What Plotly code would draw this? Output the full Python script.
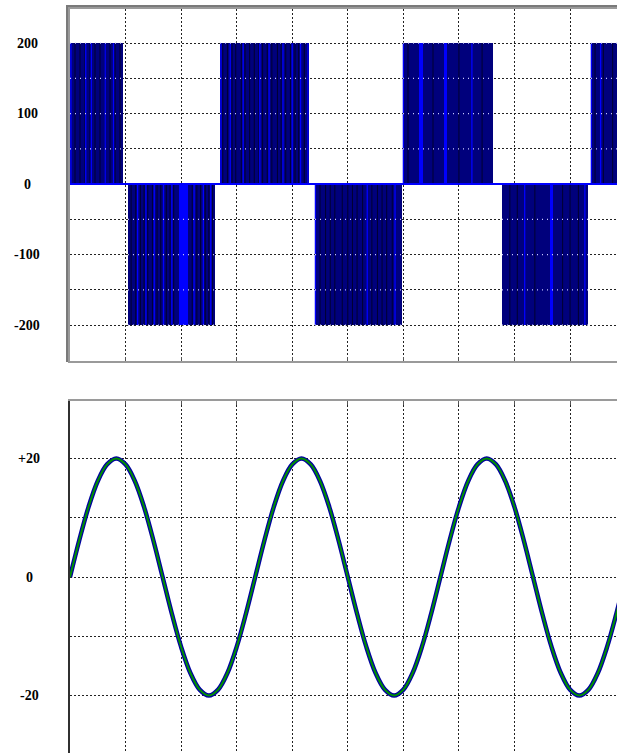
import plotly.graph_objects as go

# ---------------- data ----------------
# PWM inverter output voltage: conduction blocks (time in ms, level in V)
v_start = [0.0, 6.26, 16.2, 26.46, 35.96, 46.65, 56.26]
v_end = [5.72, 15.66, 25.8, 35.85, 45.68, 55.94, 59.1]
v_level = [200, -200, 200, -200, 200, -200, 200]

# pulse edges inside the blocks (ms) -- dark switching edges
dark_edges = [0.54, 1.08, 1.62, 2.16, 2.70, 3.24, 3.78, 4.32, 4.86, 5.40,
              6.6, 7.1, 7.6, 8.0, 8.4, 8.9, 9.4, 9.8, 10.4, 10.8, 11.2,
              13.2, 13.7, 14.1, 14.6, 15.0, 15.4,
              16.5, 17.0, 17.5, 17.9, 18.5, 18.9, 19.4, 19.9, 20.4, 20.8,
              21.3, 21.8, 22.4, 22.8, 23.3, 23.8, 24.3, 24.7, 25.3,
              27.0, 27.6, 28.1, 28.6, 29.4, 30.0, 30.5, 31.0, 31.6, 32.6,
              33.2, 33.7, 34.2, 34.8,
              36.5, 39.2, 42.0, 44.5,
              47.5, 48.3, 50.2, 53.2, 54.0, 54.9,
              56.7, 57.6, 58.6]
# narrow bright pulses (ms)
bright_edges = [0.1, 1.7, 2.3, 3.8, 4.7,
                7.3, 8.2, 9.1, 10.1, 11.0, 13.4, 14.4, 15.2,
                16.3, 17.3, 18.7, 20.5, 21.5, 23.0, 24.0, 24.9, 25.7,
                26.5, 32.1, 35.1,
                36.0, 43.4,
                49.1, 55.6,
                56.3, 57.3]
# wider bright pulses (ms)
band_start = [11.77, 37.7, 40.4, 51.8]
band_end = [12.74, 38.1, 40.7, 52.2]

# load current (A), read every 1 ms
t_ms = list(range(0, 61))
i_load = [0, 6.2, 11.8, 16.2, 19.0, 20.0, 19.0, 16.2, 11.8, 6.2,
          0, -6.2, -11.8, -16.2, -19.0, -20.0, -19.0, -16.2, -11.8, -6.2,
          0, 6.2, 11.8, 16.2, 19.0, 20.0, 19.0, 16.2, 11.8, 6.2,
          0, -6.2, -11.8, -16.2, -19.0, -20.0, -19.0, -16.2, -11.8, -6.2,
          0, 6.2, 11.8, 16.2, 19.0, 20.0, 19.0, 16.2, 11.8, 6.2,
          0, -6.2, -11.8, -16.2, -19.0, -20.0, -19.0, -16.2, -11.8, -6.2,
          0]

top_tick_vals = [200, 100, 0, -100, -200]
top_tick_text = ["200", "100", "0", "-100", "-200"]
bot_tick_vals = [20, 0, -20]
bot_tick_text = ["+20", "0", "-20"]

# ---------------- figure ----------------
W, H = 617, 753
ML = 70
PW = W - ML
X_MAX = 59.07


def px(xpix):
    return (xpix - ML) / PW


def py(ypix):
    return (H - ypix) / H


fig = go.Figure()

NAVY = "#00007c"
BRIGHT = "#0000ff"


def level_at(x):
    for s, e, lv in zip(v_start, v_end, v_level):
        if s - 0.05 <= x <= e + 0.05:
            return lv
    return 0


# voltage blocks
fig.add_trace(go.Bar(
    x=[(s + e) / 2 for s, e in zip(v_start, v_end)],
    y=v_level,
    width=[e - s for s, e in zip(v_start, v_end)],
    marker=dict(color=NAVY, line=dict(width=0)),
    xaxis="x", yaxis="y", showlegend=False, hoverinfo="skip"))

# wide bright pulses
fig.add_trace(go.Bar(
    x=[(s + e) / 2 for s, e in zip(band_start, band_end)],
    y=[level_at((s + e) / 2) for s, e in zip(band_start, band_end)],
    width=[e - s for s, e in zip(band_start, band_end)],
    marker=dict(color=BRIGHT, line=dict(width=0)),
    xaxis="x", yaxis="y", showlegend=False, hoverinfo="skip"))


def segs(xs):
    X, Y = [], []
    for x in xs:
        lv = level_at(x)
        X += [x, x, None]
        Y += [0, lv, None]
    return X, Y


dx, dy = segs(dark_edges)
fig.add_trace(go.Scatter(x=dx, y=dy, mode="lines",
                         line=dict(color="#000030", width=1),
                         xaxis="x", yaxis="y", showlegend=False, hoverinfo="skip"))
bx, by = segs(bright_edges)
fig.add_trace(go.Scatter(x=bx, y=by, mode="lines",
                         line=dict(color=BRIGHT, width=1.3),
                         xaxis="x", yaxis="y", showlegend=False, hoverinfo="skip"))

# light dotted grid seen through the blocks
gX, gY = [], []
for s, e, lv in zip(v_start, v_end, v_level):
    sign = 1 if lv > 0 else -1
    for g in (50, 100, 150, 200):
        gX += [s, e, None]
        gY += [sign * g, sign * g, None]
fig.add_trace(go.Scatter(x=gX, y=gY, mode="lines",
                         line=dict(color="#c8c8ff", width=1.2, dash="1px,4px"),
                         xaxis="x", yaxis="y", showlegend=False, hoverinfo="skip"))

# zero line of the voltage
fig.add_trace(go.Scatter(x=[0, X_MAX], y=[0, 0], mode="lines",
                         line=dict(color=BRIGHT, width=2),
                         xaxis="x", yaxis="y", showlegend=False, hoverinfo="skip"))

# current: measured (blue, rippled) and fundamental (green)
fig.add_trace(go.Scatter(x=t_ms, y=i_load, mode="lines",
                         line=dict(color="#0000a0", width=4.5, shape="spline"),
                         xaxis="x2", yaxis="y2", showlegend=False, hoverinfo="skip"))
fig.add_trace(go.Scatter(x=t_ms, y=i_load, mode="lines",
                         line=dict(color="#009000", width=2, shape="spline"),
                         xaxis="x2", yaxis="y2", showlegend=False, hoverinfo="skip"))

GRID = dict(showgrid=True, gridcolor="#222222", gridwidth=1, griddash="2px,2px",
            zeroline=False)

fig.update_layout(
    width=W, height=H,
    margin=dict(l=ML, r=0, t=0, b=0),
    paper_bgcolor="white", plot_bgcolor="white",
    barmode="overlay", bargap=0,
    xaxis=dict(domain=[0, 1], range=[0, X_MAX], dtick=6, tick0=0,
               showticklabels=False, ticks="inside", ticklen=4, tickcolor="#555",
               showline=True, linecolor="#9a9a9a", linewidth=2, mirror=True,
               anchor="y", **GRID),
    yaxis=dict(domain=[py(361), py(9)], range=[-251, 248.5], dtick=50, tick0=0,
               showticklabels=False, showline=True, linecolor="#9a9a9a",
               linewidth=2, anchor="x", **GRID),
    xaxis2=dict(domain=[0, 1], range=[0, X_MAX], dtick=6, tick0=0,
                showticklabels=False, ticks="inside", ticklen=4, tickcolor="#555",
                side="top", showline=True, linecolor="#9a9a9a", linewidth=2,
                anchor="y2", **GRID),
    yaxis2=dict(domain=[0, py(401)], range=[-29.7, 29.7], dtick=10, tick0=0,
                showticklabels=False, showline=True, linecolor="#303030",
                linewidth=2, anchor="x2", **GRID),
)

# outer frame line of the upper panel
fig.add_shape(type="line", xref="paper", yref="paper",
              x0=px(67), x1=px(67), y0=py(5), y1=py(362),
              line=dict(color="#7a7a7a", width=2))
fig.add_shape(type="line", xref="paper", yref="paper",
              x0=px(66), x1=1, y0=py(6), y1=py(6),
              line=dict(color="#7a7a7a", width=2))

LBL_FONT = dict(family="Liberation Serif", size=14, color="black", weight="bold")
for v, t in zip(top_tick_vals, top_tick_text):
    fig.add_annotation(x=px(27), xref="paper", y=v, yref="y", text=t,
                       showarrow=False, xanchor="center", yanchor="middle",
                       font=LBL_FONT)
for v, t in zip(bot_tick_vals, bot_tick_text):
    fig.add_annotation(x=px(29), xref="paper", y=v, yref="y2", text=t,
                       showarrow=False, xanchor="center", yanchor="middle",
                       font=LBL_FONT)

fig.write_html("out.html",
               config={"displayModeBar": False},
               post_script="document.body.style.margin='0';"
                           "document.body.style.overflow='hidden';")
